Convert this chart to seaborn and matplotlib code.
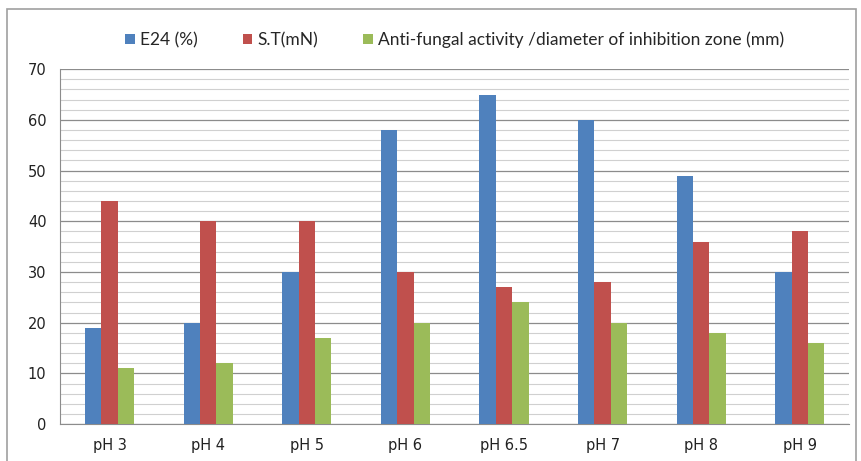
import pandas as pd
import matplotlib.pyplot as plt
import seaborn as sns
import numpy as np
from matplotlib.patches import Rectangle

categories = ["pH 3", "pH 4", "pH 5", "pH 6", "pH 6.5", "pH 7", "pH 8", "pH 9"]
e24 = [19, 20, 30, 58, 65, 60, 49, 30]
st = [44, 40, 40, 30, 27, 28, 36, 38]
antifungal = [11, 12, 17, 20, 24, 20, 18, 16]
series_names = ["E24 (%)", "S.T(mN)", "Anti-fungal activity /diameter of inhibition zone (mm)"]
colors = ["#4F81BD", "#C0504D", "#9BBB59"]

df = pd.DataFrame({"pH": categories * 3,
                   "value": e24 + st + antifungal,
                   "series": [series_names[0]] * 8 + [series_names[1]] * 8 + [series_names[2]] * 8})

sns.set_style("white")
plt.rcParams['font.family'] = ['DejaVu Sans']

fig = plt.figure(figsize=(8.62, 4.61), dpi=100)
ax = fig.add_axes([0.07, 0.08, 0.915, 0.77])

# outer chart frame
fig.patches.append(Rectangle((0.008, -0.05), 0.985, 1.03, transform=fig.transFigure,
                             fill=False, edgecolor="#A0A0A0", linewidth=1.2))

sns.barplot(data=df, x="pH", y="value", hue="series", palette=colors,
            width=0.5, saturation=1, linewidth=0, ax=ax, zorder=3)

ax.set_ylim(0, 70)
ax.set_yticks(np.arange(0, 71, 10))
ax.set_yticks(np.arange(0, 71, 2), minor=True)
ax.grid(True, axis="y", which="major", color="#8C8C8C", linewidth=0.9, zorder=0)
ax.grid(True, axis="y", which="minor", color="#D0D0D0", linewidth=0.8, zorder=0)
ax.set_axisbelow(True)
ax.set_xlabel("")
ax.set_ylabel("")
ax.tick_params(axis="y", which="major", length=4, color="#8C8C8C", labelsize=10.5, pad=6)
ax.tick_params(axis="y", which="minor", length=0)
ax.tick_params(axis="x", length=0, labelsize=10.5, pad=10)
for lbl in ax.get_xticklabels() + ax.get_yticklabels():
    lbl.set_color("#222222")

for s in ["top", "right"]:
    ax.spines[s].set_visible(False)
ax.spines["left"].set_color("#8C8C8C")
ax.spines["bottom"].set_color("#8C8C8C")

ax.legend(loc="lower center", bbox_to_anchor=(0.5, 1.015), ncol=3, frameon=False,
          handlelength=0.55, handleheight=0.55, handletextpad=0.3, columnspacing=2.6,
          prop={"family": "Lato", "size": 12.5})

fig.savefig("out.png", dpi=100)
